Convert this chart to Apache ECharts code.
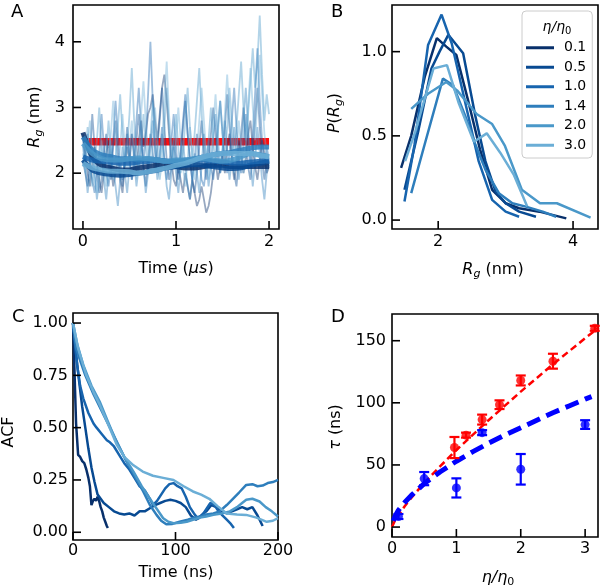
<!DOCTYPE html>
<html><head><meta charset="utf-8">
<script src="https://cdn.jsdelivr.net/npm/echarts@6/dist/echarts.min.js"></script>
<style>html,body{margin:0;padding:0;background:#fff}#c{width:600px;height:588px}</style>
</head><body><div id="c"></div>
<script>
// ---------- colours (Blues) ----------
const etaLabels = ['0.1','0.5','1.0','1.4','2.0','3.0'];
const etaColors = ['#08306b','#084a92','#1764ae','#2e7ebc','#4a98c9','#6baed6'];

// ---------- Panel A: Rg time series ----------
const redLevel = 2.48;
const redT = [0.04, 2.0];
const noisyA = [
[2.6,2.3,2.0,1.8,2.1,2.4,2.2,1.9,1.7,2.0, 2.3,2.5,2.1,1.8,2.0,2.2,1.9,1.7,2.1,2.4, 2.2,2.6,2.3,2.0,2.5,2.8,2.4,2.6,2.9,3.0, 3.2,2.8,2.5,2.9,3.3,3.5,3.1,2.6,2.2,1.9, 1.8,2.1,1.9,1.7,2.0,1.8,1.6,1.9,1.7,1.5, 1.6,1.8,1.6,1.4,1.5,1.7,2.0,2.2,1.9,2.1, 2.3,2.0,2.4,2.6,2.2,1.9,2.1,2.5,2.3,2.0, 2.2,2.6,2.8,2.4,2.1,1.9,2.2,2.5,2.3,2.0, 2.1],
[2.2,2.0,1.8,2.2,2.9,2.4,2.0,1.7,1.9,2.3, 2.6,2.2,1.9,2.4,2.8,2.3,2.0,1.8,2.2,2.7, 2.3,1.9,2.1,2.5,2.9,2.5,2.1,1.8,2.2,2.6, 2.3,2.0,2.4,2.8,3.3,2.7,2.2,1.9,2.1,2.5, 2.2,1.9,2.3,2.7,3.1,2.6,2.2,1.9,1.7,2.0, 2.4,2.8,2.3,1.9,2.2,2.6,3.0,2.6,2.2,2.0, 2.3,2.7,3.2,2.7,2.3,2.0,1.8,2.2,2.6,3.0, 2.5,2.1,1.9,2.3,2.8,3.3,2.7,2.2,1.9,2.2, 2.1],
[2.5,2.2,2.6,2.1,1.9,1.7,2.0,2.3,2.9,2.4, 2.0,1.8,2.1,2.5,3.1,2.6,2.1,1.9,2.2,2.6, 2.2,1.9,2.3,2.8,3.3,2.7,2.2,2.5,3.2,4.0, 3.1,2.4,2.0,2.3,2.7,2.2,1.9,2.1,2.5,2.9, 2.4,2.0,2.3,2.8,3.2,2.6,2.2,1.9,2.2,2.6, 2.2,1.9,1.8,2.1,2.5,2.1,1.9,2.2,2.7,3.1, 2.6,2.2,2.0,2.3,2.8,3.3,2.7,2.2,2.0,2.4, 2.9,2.5,2.1,2.6,3.2,3.9,3.1,2.5,2.1,2.4, 2.2],
[2.4,2.1,1.7,2.0,2.4,2.0,1.6,1.9,2.3,1.9, 1.6,2.0,2.5,2.1,1.8,1.5,1.9,2.4,2.0,1.7, 2.1,2.6,2.2,1.8,2.1,2.5,2.1,1.7,2.0,2.4, 2.8,2.3,1.9,2.2,2.6,2.2,1.8,1.6,2.0,2.4, 2.0,1.7,2.1,2.5,2.1,1.8,1.6,1.9,2.3,2.0, 1.7,2.1,2.6,2.2,1.8,2.1,2.5,2.9,2.4,2.0, 2.3,2.8,2.3,1.9,2.2,2.7,2.3,1.9,2.3,2.8, 3.3,2.7,2.2,1.8,2.2,2.7,2.3,1.9,1.6,2.0, 2.2],
[2.1,2.3,2.7,2.2,1.8,2.1,2.5,3.0,2.4,2.0, 2.3,2.8,2.3,1.9,2.2,2.7,3.2,2.6,2.1,2.4, 2.9,3.6,2.8,2.3,2.0,2.4,2.9,2.4,2.0,2.5, 3.1,2.6,2.2,1.9,2.2,2.7,3.3,2.7,2.2,2.5, 2.9,2.4,2.0,2.3,2.8,3.3,2.7,2.2,2.6,3.1, 3.6,2.9,2.4,2.1,2.5,3.0,2.5,2.1,2.6,3.1, 2.6,2.2,2.7,3.3,2.8,2.3,2.7,3.2,3.7,3.0, 2.5,2.9,3.4,3.9,3.3,3.7,4.4,3.5,2.8,3.2, 2.9],
[2.3,2.0,2.4,2.8,2.3,1.9,1.7,2.1,2.5,2.1, 1.8,2.2,2.6,3.1,2.5,2.0,2.4,2.9,2.4,2.0, 2.4,2.8,2.3,1.9,2.3,2.9,3.4,2.8,2.3,2.0, 2.4,3.0,2.5,2.1,2.5,3.1,3.7,2.9,2.4,2.1, 2.5,3.0,2.5,2.1,1.8,2.2,2.7,2.3,1.9,2.3, 2.8,3.3,2.8,2.3,1.9,2.2,2.7,3.2,2.6,2.1, 2.4,2.9,3.5,2.9,2.4,2.0,2.3,2.8,2.4,2.0, 2.4,3.0,3.6,3.0,2.5,3.1,3.8,3.2,2.6,2.3, 2.1]
];
const avgA = [
[2.62,2.25,2.12,2.08,2.05,2.05,2.08,2.10,2.12,2.12,2.10,2.08,2.08,2.10,2.12,2.12,2.10,2.10,2.10,2.10,2.10],
[2.20,2.05,2.00,1.98,1.97,1.98,2.00,2.02,2.05,2.08,2.10,2.12,2.13,2.12,2.10,2.08,2.07,2.08,2.12,2.15,2.18],
[2.25,2.20,2.18,2.17,2.15,2.15,2.17,2.18,2.20,2.18,2.17,2.18,2.20,2.20,2.18,2.17,2.15,2.15,2.17,2.18,2.20],
[2.55,2.35,2.28,2.25,2.22,2.22,2.20,2.22,2.20,2.18,2.18,2.20,2.22,2.25,2.28,2.30,2.32,2.35,2.38,2.40,2.40],
[2.45,2.30,2.22,2.20,2.20,2.22,2.23,2.22,2.20,2.18,2.20,2.20,2.22,2.22,2.20,2.18,2.20,2.25,2.30,2.28,2.25],
[2.15,2.08,2.05,2.03,2.03,2.02,2.00,2.02,2.05,2.08,2.12,2.15,2.20,2.25,2.28,2.30,2.30,2.30,2.30,2.27,2.25]
];
const stepNoisy = 0.025, stepAvg = 0.1;

// ---------- Panel B: P(Rg) ----------
const bX = [
[1.45,1.6,1.8,1.98,2.12,2.27,2.45,2.62,2.8,3.0,3.2,3.5,3.9],
[1.5,1.7,1.9,2.02,2.15,2.37,2.55,2.7,2.85,3.0,3.2,3.45],
[1.5,1.65,1.85,2.05,2.2,2.4,2.6,2.8,3.0,3.2],
[1.6,1.8,2.07,2.22,2.4,2.55,2.7,2.9,3.1,3.3,3.55,3.75],
[1.6,1.85,2.12,2.28,2.57,2.8,2.99,3.24,3.51,3.76,4.26],
[1.51,1.66,1.93,2.13,2.3,2.53,2.72,2.92,3.12,3.32]
];
const bY = [
[0.31,0.5,0.85,1.08,1.03,0.98,0.7,0.42,0.18,0.1,0.07,0.05,0.01],
[0.18,0.52,0.9,1.0,1.1,0.99,0.62,0.35,0.17,0.1,0.05,0.02],
[0.11,0.45,1.04,1.22,1.05,0.7,0.35,0.12,0.05,0.02],
[0.16,0.45,0.84,0.8,0.62,0.45,0.3,0.16,0.1,0.08,0.05,0.02],
[0.66,0.75,0.82,0.77,0.63,0.57,0.44,0.18,0.1,0.1,0.015],
[0.35,0.525,0.9,0.92,0.7,0.465,0.515,0.4,0.27,0.08]
];

// ---------- Panel C: ACF ----------
const cT = [
[0,1,2,3,5,7,9,11,13,15,16.5,18,19.5,21,22.5,24,25.5,27,28.5,30,31.5,33,34],
[0,3,6,9,12,15,18,21,24,27,30,35,40,45,50,55,60,65,70,75,80,85,90,95,100,105,110,115,120,125,130,135,140,145,150,155,160,165,170,175,180,185],
[0,2,4,7,10,15,20,23,28,33,36,40,45,50,55,60,65,70,75,78,82,86,90,94,98,102,106,110,114,118,122,126,130,134,138,142,146,150,154,157],
[0,3,7,12,20,28,36,44,52,60,68.5,75,81.5,86,91,97,104,112,118,124,130,137,143,150,156,162,169,175,180,185,190,195,200],
[0,4,10,18,26,34,42.5,50,59,67,75,82,88,93,98,105,111,117,124,130,137,145,153,160,165,169,175,182,188,194,200],
[0,5,13,20,26,34,42.5,50,59,68,78,88,98,108,117,125,133,141,150,160,169,179,189,195,200]
];
const cA = [
[1.0,0.85,0.68,0.52,0.37,0.36,0.34,0.33,0.3,0.26,0.22,0.13,0.15,0.16,0.15,0.17,0.15,0.12,0.1,0.07,0.05,0.03,0.02],
[1.0,0.85,0.72,0.6,0.5,0.4,0.31,0.24,0.18,0.16,0.14,0.12,0.1,0.09,0.085,0.09,0.08,0.1,0.1,0.115,0.13,0.14,0.15,0.155,0.15,0.14,0.12,0.08,0.06,0.08,0.1,0.13,0.12,0.1,0.09,0.1,0.11,0.12,0.11,0.12,0.08,0.03],
[1.0,0.9,0.8,0.7,0.64,0.57,0.52,0.5,0.47,0.44,0.43,0.41,0.37,0.33,0.3,0.26,0.22,0.2,0.16,0.13,0.15,0.18,0.21,0.23,0.235,0.22,0.21,0.17,0.12,0.09,0.065,0.08,0.11,0.14,0.13,0.1,0.08,0.06,0.04,0.02],
[1.0,0.88,0.82,0.75,0.66,0.58,0.5,0.42,0.34,0.27,0.195,0.13,0.083,0.055,0.038,0.04,0.05,0.06,0.07,0.075,0.085,0.09,0.1,0.13,0.16,0.19,0.226,0.23,0.22,0.223,0.235,0.24,0.25],
[1.0,0.9,0.8,0.7,0.625,0.53,0.43,0.36,0.29,0.22,0.16,0.11,0.067,0.05,0.043,0.045,0.05,0.06,0.07,0.075,0.083,0.09,0.1,0.12,0.14,0.155,0.16,0.147,0.12,0.1,0.075],
[1.0,0.88,0.75,0.67,0.61,0.52,0.42,0.36,0.32,0.29,0.27,0.26,0.25,0.22,0.195,0.18,0.16,0.125,0.09,0.085,0.083,0.07,0.05,0.055,0.067]
];

// ---------- Panel D: tau vs viscosity ----------
const redX = [0.97,1.15,1.4,1.67,2.0,2.5,3.15];
const redY = [64,74,86.5,98.5,118,133.5,160];
const redErr = [8.5,2,4,3.5,4,6,2];
const blueX = [0.1,0.5,1.0,1.4,2.0,3.0];
const blueY = [8.5,39,31.5,76,46.5,82.5];
const blueErr = [2,5.3,7.7,2,12.3,3.5];
const redFitX = [0,0.05,0.1,0.2,0.3,0.5,0.75,1,1.25,1.5,1.75,2,2.25,2.5,2.75,3,3.2];
const redFitY = [0,5.8,9.5,17,23.5,35.5,49,62,74,86,97.5,109,120,131,141.5,152,160];
const blueFitX = [0.02,0.05,0.1,0.2,0.3,0.5,0.75,1,1.25,1.5,1.75,2,2.25,2.5,2.75,3,3.1];
const blueFitY = [5,9,13.5,20,25.5,35,44.5,53,60.5,67.5,74,80,86,92,97.5,103,105];

// ---------- axis ranges and tick labels ----------
const rangeA = {x:[-0.107,2.107], y:[1.15,4.56]};
const rangeB = {x:[1.315,4.37], y:[-0.053,1.277]};
const rangeC = {x:[0,200], y:[-0.037,1.048]};
const rangeD = {x:[0,3.2], y:[-8,171.5]};
const ticksA_x = [0,1,2], ticksA_y = [2,3,4];
const ticksB_x = [2,4], ticksB_y = [0,0.5,1.0];
const ticksC_x = [0,100,200], ticksC_y = [0,0.25,0.5,0.75,1.0];
const ticksD_x = [0,1,2,3], ticksD_y = [0,50,100,150];

// =====================================================
const F = 'DejaVu Sans';
function axis(gi, pos, range, ticks, fmt, margin) {
  return {
    type:'value', gridIndex:gi, position:pos, min:range[0], max:range[1],
    axisLine:{show:false, onZero:false}, splitLine:{show:false}, axisTick:{show:false},
    axisLabel:{customValues:ticks, formatter:fmt, color:'#000', fontSize:16, fontFamily:F, margin}
  };
}
const grids = [
  {left:73, top:5, width:206, height:224},
  {left:392, top:5, width:206, height:224},
  {left:73, top:313, width:205, height:227},
  {left:392, top:314, width:206, height:223}
].map(g => Object.assign(g, {show:true, borderColor:'#000', borderWidth:1.6, backgroundColor:'rgba(0,0,0,0)'}));

const xAxes = [
  axis(0, 'bottom', rangeA.x, ticksA_x, v=>String(v), 5),
  axis(1, 'bottom', rangeB.x, ticksB_x, v=>String(v), 5),
  axis(2, 'bottom', rangeC.x, ticksC_x, v=>String(v), 3),
  axis(3, 'bottom', rangeD.x, ticksD_x, v=>String(v), 4)
];
const yAxes = [
  axis(0, 'left', rangeA.y, ticksA_y, v=>String(v), 8),
  axis(1, 'left', rangeB.y, ticksB_y, v=>v.toFixed(1), 5),
  axis(2, 'left', rangeC.y, ticksC_y, v=>v.toFixed(2), 5),
  axis(3, 'left', rangeD.y, ticksD_y, v=>String(v), 6)
];

// inward tick marks, placed through each grid's own scales
function tickSeries(gi, range, xt, yt) {
  const data = xt.map(v=>[v, range.y[0], 0]).concat(yt.map(v=>[range.x[0], v, 1]));
  return {type:'custom', xAxisIndex:gi, yAxisIndex:gi, silent:true, z:50, clip:false, data,
    renderItem:(params, api)=>{
      const p = api.coord([api.value(0), api.value(1)]);
      const cs = params.coordSys, L = 8;
      const st = {stroke:'#000', lineWidth:1.6};
      if (api.value(2) === 0) {
        const yb = cs.y + cs.height;
        return {type:'line', shape:{x1:p[0], y1:yb, x2:p[0], y2:yb-L}, style:st};
      }
      return {type:'line', shape:{x1:cs.x, y1:p[1], x2:cs.x+L, y2:p[1]}, style:st};
    }};
}

const series = [];
// Panel A
series.push({type:'line', xAxisIndex:0, yAxisIndex:0, name:'ref', symbol:'none', silent:true,
  data: redT.map(t=>[t, redLevel]), lineStyle:{color:'#ff0000', width:7.5, opacity:0.95}, z:1});
noisyA.forEach((arr,i)=>{
  series.push({type:'line', xAxisIndex:0, yAxisIndex:0, name:'nA'+i, symbol:'none', silent:true,
    data: arr.map((v,j)=>[j*stepNoisy, v]), lineStyle:{color:etaColors[i], width:1.8, opacity:0.42}, z:2});
});
avgA.forEach((arr,i)=>{
  series.push({type:'line', xAxisIndex:0, yAxisIndex:0, name:'aA'+i, symbol:'none', silent:true, smooth:0.3,
    data: arr.map((v,j)=>[j*stepAvg, v]), lineStyle:{color:etaColors[i], width:5, opacity:0.85}, z:3});
});
// Panel B
bX.forEach((xs,i)=>{
  series.push({type:'line', xAxisIndex:1, yAxisIndex:1, name:etaLabels[i], symbol:'none', color:etaColors[i],
    data: xs.map((x,j)=>[x, bY[i][j]]), lineStyle:{color:etaColors[i], width:2.5}});
});
// Panel C
cT.forEach((ts,i)=>{
  series.push({type:'line', xAxisIndex:2, yAxisIndex:2, name:'c'+etaLabels[i], symbol:'none', silent:true,
    data: ts.map((t,j)=>[t, cA[i][j]]), lineStyle:{color:etaColors[i], width:2.5}});
});
// Panel D
function errSeries(xs, ys, es, color, name) {
  return {type:'custom', xAxisIndex:3, yAxisIndex:3, name, silent:true, z:5,
    data: xs.map((x,i)=>[x, ys[i], es[i]]),
    renderItem:(params, api)=>{
      const x=api.value(0), y=api.value(1), e=api.value(2);
      const t=api.coord([x,y+e]), b=api.coord([x,y-e]); const w=5;
      const st={stroke:color, lineWidth:2.2};
      return {type:'group', children:[
        {type:'line', shape:{x1:t[0],y1:t[1],x2:b[0],y2:b[1]}, style:st},
        {type:'line', shape:{x1:t[0]-w,y1:t[1],x2:t[0]+w,y2:t[1]}, style:st},
        {type:'line', shape:{x1:b[0]-w,y1:b[1],x2:b[0]+w,y2:b[1]}, style:st}
      ]};
    }};
}
series.push({type:'line', xAxisIndex:3, yAxisIndex:3, name:'redfit', symbol:'none', silent:true, z:2,
  data: redFitX.map((x,i)=>[x, redFitY[i]]), lineStyle:{color:'#ff0000', width:2.5, type:[7,4]}});
series.push({type:'line', xAxisIndex:3, yAxisIndex:3, name:'bluefit', symbol:'none', silent:true, z:3,
  data: blueFitX.map((x,i)=>[x, blueFitY[i]]), lineStyle:{color:'#0000ff', width:5, type:[14,7]}});
series.push(errSeries(redX, redY, redErr, '#ff0000', 'redErr'));
series.push({type:'scatter', xAxisIndex:3, yAxisIndex:3, name:'redPts', symbolSize:9, silent:true, z:6,
  data: redX.map((x,i)=>[x, redY[i]]), itemStyle:{color:'#ff0000'}});
series.push(errSeries(blueX, blueY, blueErr, '#0000ff', 'blueErr'));
series.push({type:'scatter', xAxisIndex:3, yAxisIndex:3, name:'bluePts', symbolSize:9, silent:true, z:6,
  data: blueX.map((x,i)=>[x, blueY[i]]), itemStyle:{color:'#0000ff'}});
// tick marks
series.push(tickSeries(0, rangeA, ticksA_x, ticksA_y));
series.push(tickSeries(1, rangeB, ticksB_x, ticksB_y));
series.push(tickSeries(2, rangeC, ticksC_x, ticksC_y));
series.push(tickSeries(3, rangeD, ticksD_x, ticksD_y));

const rich = {
  n:{fontSize:16, fontFamily:F, color:'#000', lineHeight:20},
  i:{fontSize:16, fontFamily:F, fontStyle:'italic', color:'#000', lineHeight:20},
  s:{fontSize:11, fontFamily:F, fontStyle:'italic', color:'#000', lineHeight:11, padding:[9,0,0,0], verticalAlign:'bottom'},
  s0:{fontSize:11, fontFamily:F, color:'#000', lineHeight:11, padding:[9,0,0,0], verticalAlign:'bottom'},
  li:{fontSize:14, fontFamily:F, fontStyle:'italic', color:'#000', lineHeight:18},
  ls0:{fontSize:10, fontFamily:F, color:'#000', lineHeight:10, padding:[8,0,0,0], verticalAlign:'bottom'}
};
function ttl(text, x, y, rot) {
  return {type:'text', x, y, rotation: rot ? Math.PI/2 : 0, z:100,
    style:{text, rich, align:'center', verticalAlign:'middle', fill:'#000', font:'16px "DejaVu Sans"'}};
}
function lab(text, x, y) {
  return {type:'text', x, y, z:100, style:{text, fill:'#000', font:'18px "DejaVu Sans"', align:'left', verticalAlign:'top'}};
}
const graphic = [
  lab('A', 11, 3), lab('B', 331, 3), lab('C', 12, 308), lab('D', 331, 308),
  ttl('{n|Time (}{i|μs}{n|)}', 176, 269, false),
  ttl('{i|R}{s|g}{n| (nm)}', 35, 117, true),
  ttl('{i|R}{s|g}{n| (nm)}', 493, 270, false),
  ttl('{i|P}{n|(}{i|R}{s|g}{n|)}', 335, 113, true),
  ttl('{n|Time (ns)}', 176, 573, false),
  ttl('{n|ACF}', 9, 432, true),
  ttl('{i|η/η}{s0|0}', 498, 578, false),
  ttl('{i|τ}{n| (ns)}', 336, 427, true),
  {type:'text', x:557, y:27, z:100, style:{text:'{li|η/η}{ls0|0}', rich, align:'center', verticalAlign:'middle', fill:'#000', font:'14px "DejaVu Sans"'}}
];

const chart = echarts.init(document.getElementById('c'), null, {renderer:'canvas'});
chart.setOption({
  animation:false,
  backgroundColor:'#fff',
  grid: grids, xAxis: xAxes, yAxis: yAxes, series, graphic,
  legend:{data: etaLabels, orient:'vertical', left:522, top:11, padding:[27,6,3,4], itemGap:0,
    itemWidth:28, itemHeight:3, icon:'rect', borderColor:'#cccccc', borderWidth:1, borderRadius:4,
    backgroundColor:'rgba(255,255,255,0.85)', selectedMode:false,
    textStyle:{fontSize:14, fontFamily:F, color:'#000', lineHeight:19.5, padding:[0,0,0,5]}}
});
</script></body></html>
